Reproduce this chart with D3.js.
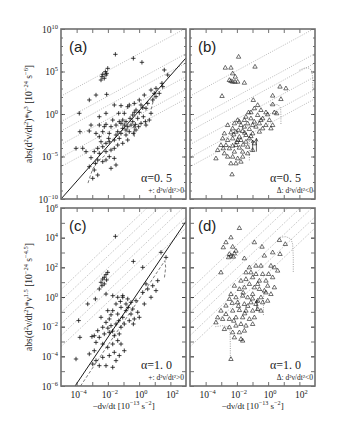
<!DOCTYPE html>
<html>
<head>
<meta charset="utf-8">
<script src="https://cdn.jsdelivr.net/npm/d3@7"></script>
<style>
body { margin: 0; background: #fff; }
</style>
</head>
<body>
<div class="chart"></div>
<script>
// values are log10 pairs: [log(-dnu/dt), log(y)]
var plusA = [[-1.52,7.02],[-0.37,6.55],[0.18,6.08],[-2.01,5.37],[-2.08,4.78],[-2.16,4.98],[-2.33,4.67],[-2.38,4.39],[-2.12,4.59],[-2.23,4.20],[-2.44,4.00],
	[-2.76,2.23],[-3.19,1.65],[-2.08,2.31],[-3.83,0.08],[-3.79,-2.08],[-4.04,-4.04],[1.61,5.18],[1.83,4.59],[1.46,3.61],[1.51,3.22],
	[-1.59,1.06],[-1.16,0.98],[-0.73,0.86],[-0.20,0.47],[0.01,0.20],[0.44,0.67],[0.27,-0.32],[-0.09,-0.51],[-0.41,-0.90],[-0.84,-0.90],
	[-1.16,-1.10],[-1.48,-1.30],[-1.80,-1.49],[-2.12,-1.22],[-2.55,-1.30],[-3.08,-1.30],[-3.19,-2.00],[-2.76,-2.28],[-2.33,-2.08],[-1.91,-2.28],
	[-1.37,-2.08],[-1.05,-1.69],[-0.73,-1.49],[-0.52,-1.30],[-0.24,-1.22],[0.12,-1.10],[0.40,-0.90],[0.65,-0.71],[-0.63,-2.08],[-0.84,-2.47],
	[-1.27,-2.87],[-1.59,-3.06],[-1.91,-3.26],[-2.12,-3.45],[-2.33,-3.85],[-2.65,-4.04],[-2.87,-4.43],[-2.55,-4.63],[-2.12,-4.43],[-1.80,-4.24],
	[-1.59,-4.04],[-1.37,-3.65],[-1.91,-5.02],[-2.12,-5.41],[-2.33,-5.61],[-2.65,-5.41],[-2.80,-5.81],[-3.08,-5.14],[-3.19,-6.20],[-2.87,-6.59],
	[-1.59,-5.22],[-1.80,-6.39],[-1.48,-6.00],[-2.65,-7.18],[-2.97,-7.57],[-1.05,-3.45],[-0.73,-3.06],[-1.16,-2.28],[-0.95,-1.30],[-0.41,-0.12],
	[0.12,1.06],[0.87,1.65],[1.08,2.04],[1.29,2.43],[0.97,2.43],[0.55,1.25],[0.23,0.74],[0.01,1.65],[-0.31,1.25],[-1.27,-0.90],
	[-1.69,-0.71],[-2.12,0.08],[-2.55,-0.32],[-1.31,0.08],[-0.95,0.08],[-0.58,-0.51],[-0.03,-1.49],[-0.20,-1.88],[-0.37,-2.28],[-0.84,-1.88],
	[-1.48,-2.47],[-1.95,-2.87],[-2.44,-3.26],[-2.55,-2.67],[-2.23,-1.49],[-1.05,-0.71],[-0.63,1.06],[-0.31,0.20],[-3.40,-4.43],[-3.61,-4.04],
	[0.33,2.23],[0.76,2.82],[1.08,3.02],[0.76,0.08],[0.44,-1.30]];

var triB = [[-1.89,6.74],[-2.74,5.45],[-2.38,5.45],[-0.84,5.57],[-2.27,4.78],[-2.10,4.39],[-2.48,4.00],[-2.38,3.88],[-2.27,3.80],[-2.12,3.80],
	[-1.95,3.80],[-1.52,3.68],[-2.95,2.12],[0.76,3.22],[1.14,3.02],[0.82,1.76],[0.29,2.16],[-0.95,1.65],
	[0.29,1.14],[-1.25,0.20],[-0.88,0.67],[-0.46,0.47],[-0.14,0.20],[0.40,0.20],[0.55,0.08],[-0.67,-0.12],[-1.10,-0.51],[-1.52,-0.71],
	[-1.95,-0.71],[-2.16,-1.10],[-1.74,-1.30],[-1.31,-1.10],[-0.88,-0.90],[-0.46,-0.71],[-0.14,-1.30],[0.18,-1.69],[-0.35,-1.69],[-0.78,-1.49],
	[-1.20,-1.77],[-1.63,-2.00],[-2.06,-2.08],[-2.38,-2.16],[-2.80,-2.28],[-2.91,-2.87],[-2.59,-3.06],[-2.27,-2.87],[-1.84,-2.67],[-1.42,-2.47],
	[-0.99,-2.28],[-0.56,-2.08],[-2.06,-3.65],[-1.84,-3.96],[-2.27,-3.73],[-2.48,-4.04],[-2.70,-3.65],[-3.02,-3.65],[-3.23,-4.24],[-3.34,-5.22],
	[-2.59,-5.02],[-2.27,-5.02],[-1.95,-5.22],[-1.74,-5.61],[-2.06,-5.81],[-2.38,-5.81],[-1.63,-5.02],[-1.31,-4.63],[-0.99,-4.24],[-0.88,-3.45],
	[-1.42,-3.26],[-1.74,-3.06],[-1.20,-2.87],[-2.31,-7.10],[-0.67,1.06],[-0.03,-0.04],[-0.35,-0.51],[-1.52,-1.49],[-1.95,-3.06],[-2.16,-4.43],
	[-2.80,-4.63],[-2.87,-4.04],[-0.99,-1.30],[-0.56,-1.10],[0.08,-0.71],[0.29,-1.30],[-1.10,0.20],[-1.42,-0.32],[-1.84,-0.90],[-2.27,-1.69],
	[-2.59,-1.30],[-1.31,-3.85],[-1.63,-4.43],[-1.9,-1.9],[-2.2,-2.4],[-1.5,-2.2],[-1.1,-2.6],[-2.0,-3.3],[-1.6,-3.6]];

var plusC = [[-1.52,4.09],[-2.01,1.66],[-2.12,1.51],[-2.23,1.33],[-2.33,1.21],[-2.08,1.15],[-2.44,0.99],[-2.23,0.88],[-2.38,0.76],[-2.55,0.54],
	[-0.37,2.40],[0.23,2.00],[1.72,2.67],[1.40,3.01],[-2.12,0.20],[-2.80,-0.13],[-3.29,-0.47],[-3.87,-1.59],[-3.79,-2.72],[-4.04,-4.18],[-3.02,-2.67],
	[-1.69,0.09],[-1.37,-0.02],[-1.05,0.09],[-0.73,-0.13],[-0.52,-0.36],[-0.20,-0.25],[0.23,0.31],[0.55,0.54],[0.87,0.76],[1.08,0.43],
	[-1.48,-0.47],[-1.16,-0.70],[-0.84,-0.92],[-0.52,-1.15],[-0.31,-1.48],[-0.63,-1.60],[-1.05,-1.37],[-1.37,-1.15],[-1.69,-0.92],[-1.91,-1.48],
	[-2.12,-1.71],[-1.80,-1.93],[-1.48,-1.82],[-1.16,-2.04],[-0.95,-1.82],[-2.33,-2.04],[-2.65,-2.27],[-2.87,-2.61],[-2.55,-2.72],[-2.23,-2.49],
	[-1.91,-2.38],[-1.59,-2.61],[-1.27,-2.49],[-2.76,-3.06],[-2.33,-3.17],[-2.01,-3.39],[-1.69,-3.17],[-1.37,-2.94],[-1.59,-3.73],[-1.91,-3.95],
	[-2.33,-4.07],[-2.76,-4.29],[-2.97,-4.52],[-2.55,-4.63],[-2.12,-4.63],[-1.69,-4.74],[-2.87,-3.62],[-3.19,-3.84],[-0.84,-0.47],[-0.41,-0.81],
	[-0.09,-1.03],[0.01,-1.37],[-0.37,-1.82],[-1.16,-3.17],[-1.05,-0.02],[-2.01,-0.92],[-2.44,-1.37],[-0.95,-3.62],[-1.48,-4.29],[-1.27,-3.95],
	[0.33,-0.47],[0.76,-0.02],[0.44,0.88],[1.19,1.10],[-1.8,-1.2],[-1.3,-1.6],[-2.0,-2.1],[-1.7,-2.3],[-0.7,-0.7],[-1.2,-0.3]];

var triD = [[-1.84,4.65],[-2.38,4.02],[-2.70,3.69],[-2.27,3.39],[-2.87,3.35],[-2.06,3.12],[-2.16,2.94],[-2.48,2.90],[-2.38,2.79],[-2.23,2.72],
	[-2.53,2.68],[-0.88,3.69],[-0.39,3.39],[-1.52,2.61],[-3.02,1.66],[0.72,3.84],[1.10,3.57],[0.76,2.90],[0.29,3.01],[-0.24,2.79],
	[-1.20,2.00],[-0.78,2.11],[-0.46,2.11],[0.18,2.11],[0.40,2.00],[0.61,1.78],[0.03,1.55],[-0.35,1.55],[-0.78,1.55],[-0.99,1.33],
	[-1.42,1.21],[-0.56,1.10],[-0.14,1.10],[0.40,0.65],[0.18,0.20],[-2.16,0.76],[-1.84,0.54],[-1.52,0.65],[-1.20,0.88],[-0.88,0.65],
	[-0.56,0.54],[-0.24,0.43],[-0.99,0.20],[-1.31,-0.02],[-1.63,0.09],[-2.06,-0.02],[-2.38,0.20],[-2.48,-0.13],[-1.95,-0.36],[-1.52,-0.47],
	[-1.10,-0.36],[-0.67,-0.25],[-0.35,-0.36],[-0.03,-0.25],[-0.67,-0.81],[-0.99,-0.92],[-1.42,-0.92],[-1.84,-0.88],[-2.27,-0.92],[-2.70,-1.15],
	[-2.91,-1.48],[-2.48,-1.48],[-2.06,-1.37],[-1.63,-1.37],[-1.20,-1.48],[-0.88,-1.37],[-1.74,-1.82],[-2.06,-1.93],[-2.48,-2.04],[-2.80,-2.16],
	[-1.42,-1.93],[-0.99,-1.82],[-3.34,-1.71],[-2.27,-2.38],[-1.84,-2.38],[-1.52,-2.27],[-2.16,-2.72],[-1.74,-2.83],[-1.63,-2.94],[-2.38,-4.18],
	[-0.14,0.31],[-0.46,-0.02],[0.29,1.33],[-0.67,0.88],[-1.10,1.66],[-0.03,0.76],[-1.42,1.66],[-1.74,1.10],[-2.70,-0.58],[-3.02,-0.92],
	[-3.23,-1.37],[-0.46,-0.92],[-0.78,-0.47],[-1.9,-0.6],[-1.3,-0.6],[-2.2,-1.6],[-1.5,-1.1],[-1.0,-0.1],[-1.6,0.3],[-2.3,-0.4]];

// model lines and tracks, same log10 units
var solidA = [[-5,-10],[3,6.6]];
var solidC = [[-4.1,-6.0],[3,5.1]];
var dashA = [[[1.05,2.6],[0.9,1.5],[0.75,0.4]], [[-2.2,-4.9],[-2.6,-5.5],[-2.95,-6.4],[-3.15,-7.4],[-3.3,-8.3]]];
var dashC = [[[-3.75,-6.0],[-2,-3.25],[0,-0.15],[1.2,1.75],[1.65,2.45],[1.7,2.0],[1.62,1.3]]];
var tracksB = [
	[[2.0,5.15],[2.35,5.42],[2.62,5.4],[2.78,5.1],[2.84,4.5],[2.86,3.6],[2.86,2.8]],
	[[0.1,1.1],[0.35,1.15],[0.65,1.08],[0.8,0.7],[0.82,-0.2],[0.82,-1.3]],
	[[-1.2,-2.9],[-1.2,-4.2],[-1.2,-5.6]]];
var tracksD = [
	[[0.76,4.02],[1.14,4.07],[1.46,3.91],[1.57,3.57],[1.61,2.68],[1.61,1.66]],
	[[-0.45,0.45],[-0.28,0.35],[-0.3,-0.47],[-0.3,-1.26]],
	[[-3.38,-2.0],[-2.91,-1.93],[-2.59,-2.0],[-2.44,-2.27],[-2.42,-3.17],[-2.42,-4.18]]];
// offsets of the slope-1 guide lines (log y = log x + c)
var guideTop = [7.1, 4.1, 3.0, 1.4, -0.1, -1.2];
var guideBottom = [5.5, 4.75, 3.95, 3.2, 2.4, 1.65];
// arrows: [log x, log y from, log y to]
var arrowsA = [[-0.31,-2.67,-1.30]];
var arrowsB = [[-0.99,-4.43,-3.06],[-0.75,-4.43,-2.87]];
var arrowsD = [[-0.72,-0.95,-0.2]];

var xTickLabels = [-4, -2, 0, 2];
var yTickLabelsTop = [-10, -5, 0, 5, 10];
var yTickLabelsBottom = [-6, -4, -2, 0, 2, 4, 6];

var w = 340, h = 440;
var colX = [61, 190], pw = 125;
var rows = [{y: 29, h: 170, lo: -10, hi: 10}, {y: 208, h: 178, lo: -6, hi: 6}];
var serif = "'Liberation Serif', 'DejaVu Serif', serif";

var svg = d3.select('.chart').append('svg')
	.attr('width', w)
	.attr('height', h)
	.style('background', '#fff');

// text with superscript parts: strings are normal, one-item arrays are raised
var rich = function(sel, parts, size){
	var shift = size * 0.4, back = 0;
	parts.forEach(function(p){
		if (typeof p === 'string'){
			sel.append('tspan').attr('dy', back).text(p);
			back = 0;
		} else {
			sel.append('tspan').attr('dy', -shift).attr('font-size', size * 0.68).text(p[0]);
			back = shift;
		}
	});
	return sel;
};

var panels = [
	{id:'a', col:0, row:0, pts:plusA, mark:'plus', alpha:'0. 5', solid:solidA, dash:dashA, tracks:[], guides:guideTop, arrows:arrowsA},
	{id:'b', col:1, row:0, pts:triB, mark:'tri', alpha:'0. 5', solid:null, dash:[], tracks:tracksB, guides:guideTop, arrows:arrowsB},
	{id:'c', col:0, row:1, pts:plusC, mark:'plus', alpha:'1. 0', solid:solidC, dash:dashC, tracks:[], guides:guideBottom, arrows:[]},
	{id:'d', col:1, row:1, pts:triD, mark:'tri', alpha:'1. 0', solid:null, dash:[], tracks:tracksD, guides:guideBottom, arrows:arrowsD}
];

var p10 = function(v){ return Math.pow(10, v); };

panels.forEach(function(p){
	var r = rows[p.row];
	var x = d3.scaleLog().domain([1e-5, 1e3]).range([0, pw]);
	var y = d3.scaleLog().domain([p10(r.lo), p10(r.hi)]).range([r.h, 0]);
	var g = svg.append('g').attr('transform', 'translate(' + colX[p.col] + ',' + r.y + ')');

	g.append('clipPath').attr('id', 'clip-' + p.id)
		.append('rect').attr('width', pw).attr('height', r.h);
	var inner = g.append('g').attr('clip-path', 'url(#clip-' + p.id + ')');

	var line = d3.line()
		.x(function(d){ return x(p10(d[0])); })
		.y(function(d){ return y(p10(d[1])); });

	/*------------------------- GUIDE LINES --------------------------*/
	p.guides.forEach(function(c){
		inner.append('path')
			.attr('d', line([[-5, -5 + c], [3, 3 + c]]))
			.attr('fill', 'none')
			.attr('stroke', '#8a8a8a')
			.attr('stroke-width', 0.6)
			.attr('stroke-dasharray', '1,1.4');
	});

	p.tracks.forEach(function(t){
		inner.append('path').attr('d', line(t))
			.attr('fill', 'none').attr('stroke', '#777')
			.attr('stroke-width', 0.7).attr('stroke-dasharray', '1,1.3');
	});

	p.dash.forEach(function(t){
		inner.append('path').attr('d', line(t))
			.attr('fill', 'none').attr('stroke', '#444')
			.attr('stroke-width', 0.7).attr('stroke-dasharray', '3,2');
	});

	if (p.solid){
		inner.append('path').attr('d', line(p.solid))
			.attr('fill', 'none').attr('stroke', '#000').attr('stroke-width', 0.9);
	}

	/*--------------------------- POINTS -----------------------------*/
	var shape = p.mark === 'plus' ? 'M-2.2,0H2.2M0,-2.2V2.2' : 'M0,-2.3L2.2,1.5L-2.2,1.5Z';
	inner.selectAll('.pt').data(p.pts).enter()
		.append('path')
		.attr('class', 'pt')
		.attr('transform', function(d){ return 'translate(' + x(p10(d[0])) + ',' + y(p10(d[1])) + ')'; })
		.attr('d', shape)
		.attr('fill', 'none')
		.attr('stroke', '#111')
		.attr('stroke-width', p.mark === 'plus' ? 0.8 : 0.6);

	p.arrows.forEach(function(a){
		var ax = x(p10(a[0])), y0 = y(p10(a[1])), y1 = y(p10(a[2]));
		inner.append('path')
			.attr('d', 'M' + ax + ',' + y0 + 'V' + y1 + 'M' + (ax - 1.5) + ',' + (y1 + 3) + 'L' + ax + ',' + y1 + 'L' + (ax + 1.5) + ',' + (y1 + 3))
			.attr('fill', 'none').attr('stroke', '#222').attr('stroke-width', 0.7);
	});

	/*---------------------------- AXES ------------------------------*/
	var decades = d3.range(-4, 3).map(p10);
	g.append('g').attr('transform', 'translate(0,' + r.h + ')')
		.call(d3.axisBottom(x).tickValues(decades).tickSize(-4).tickFormat(''));
	g.append('g')
		.call(d3.axisTop(x).tickValues(decades).tickSize(-4).tickFormat(''));

	var minor = d3.range(r.lo + 1, r.hi).map(p10);
	var major = (p.row === 0 ? yTickLabelsTop : yTickLabelsBottom).map(p10);
	var lenMajor = 4, lenMinor = p.row === 0 ? 2 : 4;
	g.append('g').call(d3.axisLeft(y).tickValues(minor).tickSize(-lenMinor).tickFormat(''));
	g.append('g').attr('transform', 'translate(' + pw + ',0)')
		.call(d3.axisRight(y).tickValues(minor).tickSize(-lenMinor).tickFormat(''));
	g.append('g').call(d3.axisLeft(y).tickValues(major).tickSize(-lenMajor).tickFormat(''));
	g.append('g').attr('transform', 'translate(' + pw + ',0)')
		.call(d3.axisRight(y).tickValues(major).tickSize(-lenMajor).tickFormat(''));
	g.selectAll('.domain').remove();
	g.selectAll('.tick line').attr('stroke', '#333').attr('stroke-width', 0.7);

	g.append('rect')
		.attr('width', pw).attr('height', r.h)
		.attr('fill', 'none').attr('stroke', '#6f6f6f').attr('stroke-width', 1.6);

	if (p.col === 0){
		(p.row === 0 ? yTickLabelsTop : yTickLabelsBottom).forEach(function(v){
			var t = g.append('text')
				.attr('x', -3).attr('y', y(p10(v)) + 3.5)
				.attr('text-anchor', 'end')
				.attr('font-family', serif).attr('font-size', 9.5).attr('fill', '#222');
			rich(t, ['10', [v < 0 ? '\u2212' + (-v) : '' + v]], 9.5);
		});
	}
	if (p.row === 1){
		xTickLabels.forEach(function(v){
			var t = g.append('text')
				.attr('x', x(p10(v)) + 2).attr('y', r.h + 12)
				.attr('text-anchor', 'middle')
				.attr('font-family', serif).attr('font-size', 9.5).attr('fill', '#222');
			rich(t, ['10', [v < 0 ? '\u2212' + (-v) : '' + v]], 9.5);
		});
		var xl = g.append('text')
			.attr('x', pw / 2).attr('y', r.h + 23)
			.attr('text-anchor', 'middle')
			.attr('font-family', serif).attr('font-size', 9).attr('fill', '#222');
		rich(xl, ['\u2212d\u03bd/dt [10', ['\u221213'], ' s', ['\u22122'], ']'], 9);
	}

	/*--------------------------- LABELS -----------------------------*/
	g.append('text')
		.attr('x', 8).attr('y', 23)
		.attr('font-family', "'Liberation Sans', Arial, sans-serif")
		.attr('font-size', 15).attr('fill', '#222')
		.text('(' + p.id + ')');

	g.append('text')
		.attr('x', 111).attr('y', r.h - 17)
		.attr('text-anchor', 'end')
		.attr('font-family', serif).attr('font-size', 12).attr('fill', '#222')
		.text('\u03b1=' + p.alpha);

	g.append('text')
		.attr('x', 123).attr('y', r.h - 6)
		.attr('text-anchor', 'end')
		.attr('font-family', serif).attr('font-size', 7.5).attr('fill', '#222')
		.text((p.mark === 'plus' ? '+' : '\u0394') + ': d\u00b2\u03bd/dt\u00b2' + (p.mark === 'plus' ? '>0' : '<0'));
});

/*------------------------- Y AXIS TITLES ---------------------------*/
var yTitles = [
	['abs(d', ['2'], '\u03bd/dt', ['2'], ')*\u03bd', ['3'], ' [10', ['\u221224'], ' s', ['\u22126'], ']'],
	['abs(d', ['2'], '\u03bd/dt', ['2'], ')*\u03bd', ['1.5'], ' [10', ['\u221224'], ' s', ['\u22124.5'], ']']
];
rows.forEach(function(r, i){
	var t = svg.append('text')
		.attr('transform', 'translate(32,' + (r.y + r.h / 2) + ') rotate(-90)')
		.attr('text-anchor', 'middle')
		.attr('font-family', serif).attr('font-size', 9.5).attr('fill', '#222');
	rich(t, yTitles[i], 9.5);
});
</script>
</body>
</html>
